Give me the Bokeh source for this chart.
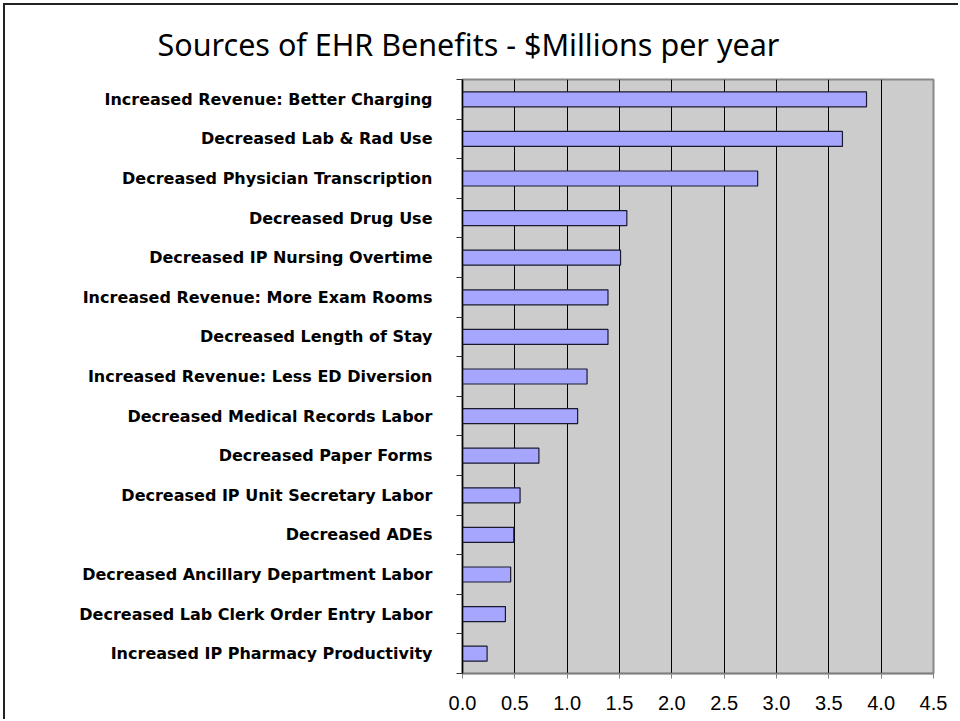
from bokeh.plotting import figure
from bokeh.models import Range1d, FixedTicker, LinearAxis, Title
from bokeh.embed import file_html
from bokeh.resources import INLINE

categories = [
    "Increased Revenue: Better Charging",
    "Decreased Lab & Rad Use",
    "Decreased Physician Transcription",
    "Decreased Drug Use",
    "Decreased IP Nursing Overtime",
    "Increased Revenue: More Exam Rooms",
    "Decreased Length of Stay",
    "Increased Revenue: Less ED Diversion",
    "Decreased Medical Records Labor",
    "Decreased Paper Forms",
    "Decreased IP Unit Secretary Labor",
    "Decreased ADEs",
    "Decreased Ancillary Department Labor",
    "Decreased Lab Clerk Order Entry Labor",
    "Increased IP Pharmacy Productivity",
]
values = [3.86, 3.63, 2.82, 1.57, 1.51, 1.39, 1.39, 1.19, 1.10, 0.73, 0.55, 0.49, 0.46, 0.41, 0.235]
x_ticks = [0.0, 0.5, 1.0, 1.5, 2.0, 2.5, 3.0, 3.5, 4.0, 4.5]
title_text = "Sources of EHR Benefits - $Millions per year"

n = len(categories)
centers = [i + 0.5 for i in range(n)]
bounds = list(range(n + 1))

p = figure(width=955, height=716, output_backend="svg", toolbar_location=None,
           x_range=Range1d(0, 4.5), y_range=Range1d(n, 0),
           x_axis_location=None, y_axis_location=None,
           min_border_left=457, min_border_right=27, min_border_top=73, min_border_bottom=48)
p.styles = {"border-left": "2px solid #222222", "border-top": "2px solid #222222",
            "margin-left": "3px", "margin-top": "3px"}

p.background_fill_color = "#CCCCCC"
p.border_fill_color = "white"
p.outline_line_color = "#888888"
p.outline_line_width = 2

p.title = Title(text=title_text, align="left", offset=-305,
                text_font="Noto Sans", text_font_size="30.5px", text_font_style="normal",
                text_color="black", standoff=30)

# axes
xaxis = LinearAxis(ticker=FixedTicker(ticks=x_ticks, minor_ticks=[]))
xaxis.major_label_overrides = {t: f"{t:.1f}" for t in x_ticks}
xaxis.axis_line_color = "#808080"
xaxis.axis_line_width = 1.5
xaxis.major_tick_line_color = "#808080"
xaxis.major_tick_out = 5
xaxis.major_tick_in = 0
xaxis.minor_tick_line_color = None
xaxis.major_label_text_font = "Liberation Sans"
xaxis.major_label_text_font_size = "20px"
xaxis.major_label_text_color = "black"
xaxis.major_label_standoff = 17
p.add_layout(xaxis, "below")

yaxis = LinearAxis(ticker=FixedTicker(ticks=centers, minor_ticks=bounds))
yaxis.major_label_overrides = {c: cat for c, cat in zip(centers, categories)}
yaxis.axis_line_color = "black"
yaxis.axis_line_width = 1.5
yaxis.major_tick_line_color = None
yaxis.major_tick_out = 0
yaxis.major_tick_in = 0
yaxis.minor_tick_line_color = "#333333"
yaxis.minor_tick_out = 6
yaxis.minor_tick_in = 0
yaxis.major_label_text_font = "DejaVu Sans"
yaxis.major_label_text_font_style = "bold"
yaxis.major_label_text_font_size = "16px"
yaxis.major_label_text_color = "black"
yaxis.major_label_standoff = 24
p.add_layout(yaxis, "left")

# grid
p.xgrid.ticker = FixedTicker(ticks=x_ticks[1:-1])
p.xgrid.grid_line_color = "black"
p.xgrid.grid_line_width = 1
p.ygrid.grid_line_color = None

p.hbar(y=centers, right=values, left=0, height=0.38,
       fill_color="#A6A6FF", line_color="#1A1A2E", line_width=1.2)

open("out.html", "w").write(file_html(p, INLINE))
